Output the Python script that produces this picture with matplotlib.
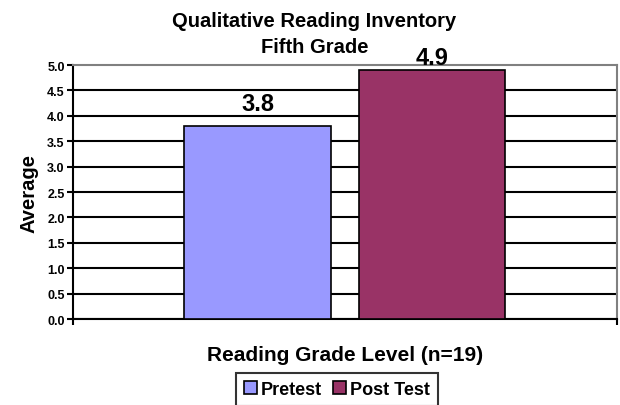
import matplotlib.pyplot as plt

plt.rcParams['font.family'] = ['Liberation Sans', 'DejaVu Sans']
plt.rcParams['font.weight'] = 'bold'

# data
series = ['Pretest', 'Post Test']
values = [3.8, 4.9]
colors = ['#9999FF', '#993366']
offsets = [-0.16, 0.16]
label_gap = [0.31, 0.12]
yticks = [0.0, 0.5, 1.0, 1.5, 2.0, 2.5, 3.0, 3.5, 4.0, 4.5, 5.0]

fig = plt.figure(figsize=(6.2, 4.06), dpi=100)
ax = fig.add_axes([0.1177, 0.2118, 0.8773, 0.6256])

for name, v, c, off, g in zip(series, values, colors, offsets, label_gap):
    ax.bar(off, v, width=0.27, color=c, edgecolor='black', linewidth=1.2,
           label=name, zorder=3)
    ax.text(off, v + g, f'{v:.1f}', ha='center', va='baseline',
            fontsize=17, fontweight='bold', zorder=4, clip_on=False)

ax.set_xlim(-0.5, 0.5)
ax.set_ylim(0, 5)
ax.set_yticks(yticks)
ax.set_yticklabels([f'{t:.1f}' for t in yticks], fontsize=9, fontweight='bold')
for t in yticks[:-1]:
    ax.axhline(t, color='black', linewidth=1.5, zorder=1)

ax.set_xticks([])
ax.set_xticks([-0.5, 0.5], minor=True)
ax.tick_params(axis='x', which='minor', length=4, width=1.5, direction='out')
ax.tick_params(axis='y', length=4, width=1.5, direction='out', pad=2)

for side in ['top', 'right']:
    ax.spines[side].set_color('#808080')
    ax.spines[side].set_linewidth(1.5)
ax.spines['left'].set_linewidth(1.5)
ax.spines['bottom'].set_linewidth(1.5)

ax.set_ylabel('Average', fontsize=14.5, fontweight='bold', labelpad=6)
ax.set_xlabel('Reading Grade Level (n=19)', fontsize=15, fontweight='bold', labelpad=11)

fig.text(0.507, 0.946, 'Qualitative Reading Inventory', ha='center', va='center',
         fontsize=14.5, fontweight='bold')
fig.text(0.507, 0.884, 'Fifth Grade', ha='center', va='center',
         fontsize=14.5, fontweight='bold')

leg = fig.legend(loc='upper center', bbox_to_anchor=(0.5435, 0.0788), ncol=2,
                 frameon=True, fancybox=False, edgecolor='black',
                 handlelength=0.7, handleheight=0.7, handletextpad=0.25,
                 columnspacing=0.6, borderpad=0.45, borderaxespad=0,
                 prop={'size': 13, 'weight': 'bold'})
leg.get_frame().set_linewidth(1.5)
leg._legend_box.align = 'left'

fig.savefig('out.png', dpi=100)
